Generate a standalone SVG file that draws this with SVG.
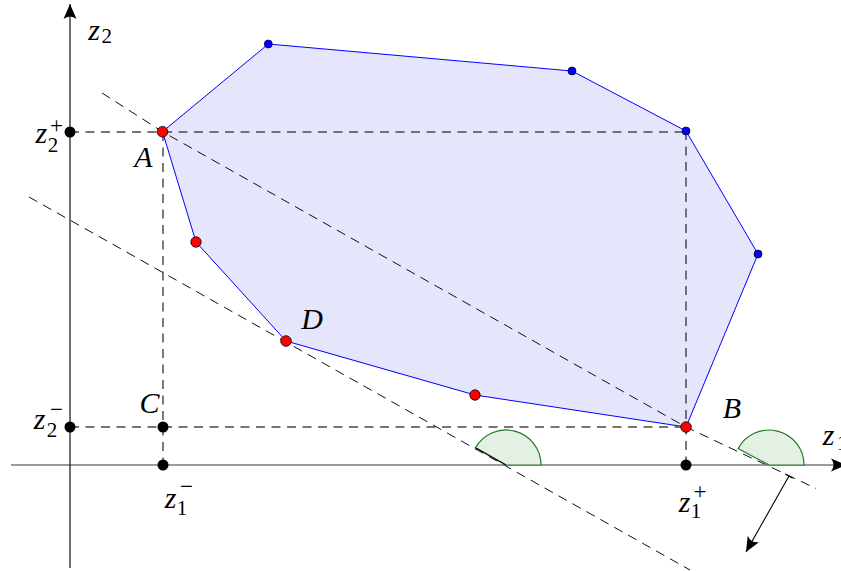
<svg xmlns="http://www.w3.org/2000/svg" width="841" height="571" viewBox="0 0 841 571">
<style>
.lbl{font-family:"Liberation Serif","Times New Roman",serif;font-style:italic;font-size:30px;fill:#000;text-anchor:middle}
.sub{font-family:"Liberation Serif","Times New Roman",serif;font-size:21px;fill:#000;text-anchor:middle}
.sup{font-family:"Liberation Serif","Times New Roman",serif;font-size:23px;fill:#000;text-anchor:middle}
.dh{stroke:#4a4a4a;stroke-width:1.4;stroke-dasharray:9 6.5;fill:none}
.dv{stroke:#222;stroke-width:1.2;stroke-dasharray:9 6.5;fill:none}
.ds{stroke:#111;stroke-width:1;stroke-dasharray:9.5 6.5;fill:none}
.red{fill:#ff0000;stroke:#000;stroke-width:0.8}
.blue{fill:#0000ff;stroke:#000;stroke-width:0.7}
.blk{fill:#000}
.sector{fill:#e4f0e4;stroke:#237a23;stroke-width:1.2}
</style>
<defs>
<marker id="latex" viewBox="0 0 16 14" refX="15" refY="7" markerWidth="16" markerHeight="14" orient="auto" markerUnits="userSpaceOnUse">
<path d="M0,0.5 Q5,7 0,13.5 L15,7 Z" fill="#000"/>
</marker>
</defs>
<g id="region">
<polygon points="162.5,131.7 268.3,44 572,71 686,131 758,254 686,427 475,395 286,341 196,242" fill="#e5e5fc" stroke="#0000ff" stroke-width="1"/>
</g>
<g id="connectors">
<line class="dh" x1="70" y1="132" x2="686" y2="132"/>
<line class="dh" x1="70" y1="427" x2="686" y2="427"/>
<line class="dv" x1="163" y1="132" x2="163" y2="465"/>
<line class="dv" x1="686" y1="131" x2="686" y2="465"/>
<polyline class="ds" points="102,93 162.5,131.7 686,427 816,488.5"/>
<line class="ds" x1="29" y1="197" x2="690" y2="570"/>
<line id="x-axis" x1="11" y1="465" x2="846" y2="465" stroke="#7a7a7a" stroke-width="1.6" marker-end="url(#latex)"/>
<line id="y-axis" x1="70" y1="568" x2="70" y2="4" stroke="#111" stroke-width="1.2" marker-end="url(#latex)"/>
<g id="normal-arrow">
<line x1="789" y1="476" x2="746" y2="552" stroke="#000" stroke-width="1.1" marker-end="url(#latex)"/>
<line x1="785.3" y1="474" x2="792.7" y2="478.2" stroke="#000" stroke-width="1.1"/>
</g>
</g>
<g id="angle1">
<path class="sector" d="M506,465 L541,465 A35,35 0 0 0 475.5,447.8 Z"/>
<line x1="506" y1="465" x2="475.5" y2="447.8" stroke="#111" stroke-width="1.2"/>
</g>
<g id="angle2">
<path class="sector" d="M769,465 L804,465 A35,35 0 0 0 738.1,448.6 Z"/>
</g>
<g id="vertices">
<circle class="blue" cx="268.3" cy="44" r="4"/>
<circle class="blue" cx="572" cy="71" r="4"/>
<circle class="blue" cx="686" cy="131" r="4"/>
<circle class="blue" cx="758" cy="254" r="4"/>
<circle class="red" cx="475" cy="395" r="5.2"/>
<circle class="red" cx="196" cy="242" r="5.2"/>
</g>
<g id="node-A"><circle class="red" cx="162.5" cy="131.7" r="5.3"/><text class="lbl" x="143.5" y="167">A</text></g>
<g id="node-B"><circle class="red" cx="686" cy="427" r="5.3"/><text class="lbl" x="732" y="418">B</text></g>
<g id="node-C"><circle class="blk" cx="163" cy="427" r="5.5"/><text class="lbl" x="149.5" y="413">C</text></g>
<g id="node-D"><circle class="red" cx="286" cy="341" r="5.3"/><text class="lbl" x="312" y="329">D</text></g>
<g id="node-z2plus"><circle class="blk" cx="70" cy="132" r="5.5"/><text class="lbl" x="41.3" y="143.3">z</text><text class="sub" x="53" y="151.7">2</text><text class="sup" x="56.5" y="133">+</text></g>
<g id="node-z2minus"><circle class="blk" cx="70" cy="427" r="5.5"/><text class="lbl" x="39.5" y="429">z</text><text class="sub" x="52" y="436.7">2</text><text class="sup" x="56.5" y="416.5">−</text></g>
<g id="node-z1minus"><circle class="blk" cx="163" cy="465" r="5.5"/><text class="lbl" x="170.5" y="508">z</text><text class="sub" x="182" y="515">1</text><text class="sup" x="186.5" y="494">−</text></g>
<g id="node-z1plus"><circle class="blk" cx="686" cy="465" r="5.5"/><text class="lbl" x="684.5" y="511.7">z</text><text class="sub" x="696" y="518">1</text><text class="sup" x="700" y="499">+</text></g>
<g id="axis-labels">
<text class="lbl" x="94" y="39.5">z</text><text class="sub" x="106.7" y="43.3">2</text>
<text class="lbl" x="828.5" y="445">z</text><text class="sub" x="842" y="450">1</text>
</g>
</svg>
